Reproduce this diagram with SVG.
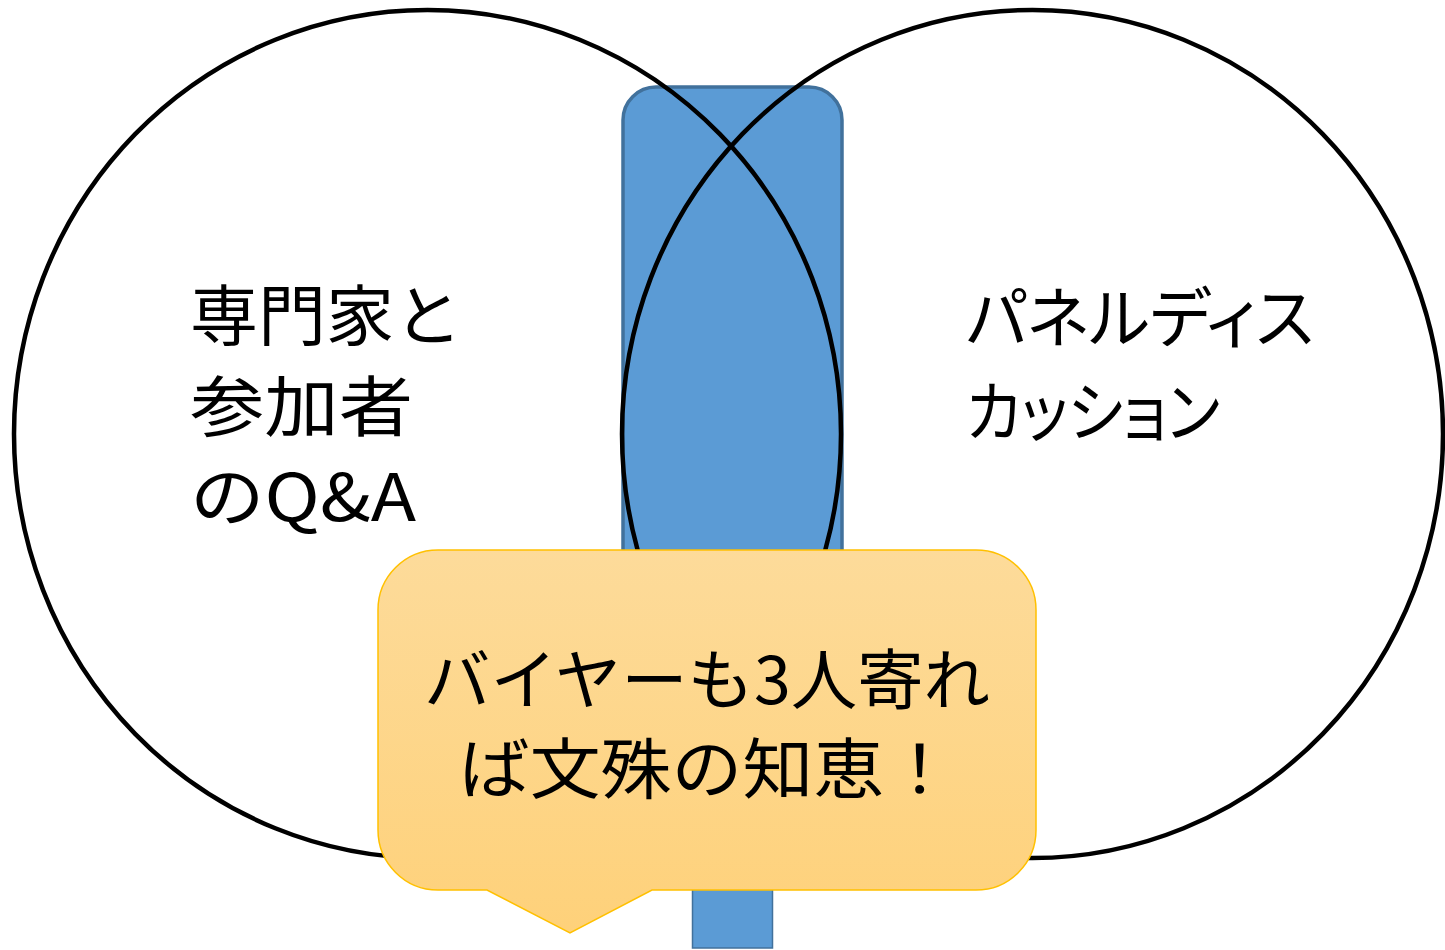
<svg xmlns="http://www.w3.org/2000/svg" width="1445" height="950" viewBox="0 0 1445 950">
  <style>
    .lbl { font-family: "Noto Sans CJK JP", "Noto Sans", sans-serif; font-size: 66px; fill: #000; }
    .palt { font-feature-settings: "palt" 1; }
    .ring { fill: none; stroke: #000; stroke-width: 4.5; }
    .bar { fill: #5B9BD5; stroke: #41719C; }
  </style>
  <defs>
    <linearGradient id="callGrad" x1="0" y1="0" x2="0" y2="1">
      <stop offset="0" stop-color="#FDDB9A"/>
      <stop offset="1" stop-color="#FED17A"/>
    </linearGradient>
  </defs>
  <rect width="1445" height="950" fill="#fff"/>

  <g id="bar">
    <rect class="bar" x="623" y="87" width="219" height="500" rx="33" ry="33" stroke-width="3.5"/>
  </g>
  <g id="stem">
    <rect class="bar" x="692.5" y="870" width="80" height="78" stroke-width="1.5"/>
  </g>

  <g id="circle-left">
    <ellipse class="ring" cx="427.5" cy="434" rx="413.5" ry="424"/>
    <text class="lbl" x="190" y="340" textLength="272" lengthAdjust="spacingAndGlyphs">専門家と</text>
    <text class="lbl" x="190" y="431" textLength="223" lengthAdjust="spacingAndGlyphs">参加者</text>
    <text class="lbl" x="190" y="521" textLength="226" lengthAdjust="spacingAndGlyphs">のQ&amp;A</text>
  </g>

  <g id="circle-right">
    <ellipse class="ring" cx="1032.5" cy="434" rx="410.5" ry="424"/>
    <text class="lbl palt" x="966" y="342" textLength="348" lengthAdjust="spacingAndGlyphs">パネルディス</text>
    <text class="lbl palt" x="966" y="436" textLength="254" lengthAdjust="spacingAndGlyphs">カッション</text>
  </g>

  <g id="connectors"></g>

  <g id="callout">
    <path d="M 438 550 H 976 A 60 60 0 0 1 1036 610 V 830 A 60 60 0 0 1 976 890 H 652 L 570 933 L 487 890 H 438 A 60 60 0 0 1 378 830 V 610 A 60 60 0 0 1 438 550 Z" fill="url(#callGrad)" stroke="#FFC000" stroke-width="1.5"/>
    <text class="lbl" x="707" y="704" text-anchor="middle" textLength="566" lengthAdjust="spacingAndGlyphs">バイヤーも3人寄れ</text>
    <text class="lbl" x="707" y="793" text-anchor="middle" textLength="496" lengthAdjust="spacingAndGlyphs">ば文殊の知恵！</text>
  </g>
</svg>
